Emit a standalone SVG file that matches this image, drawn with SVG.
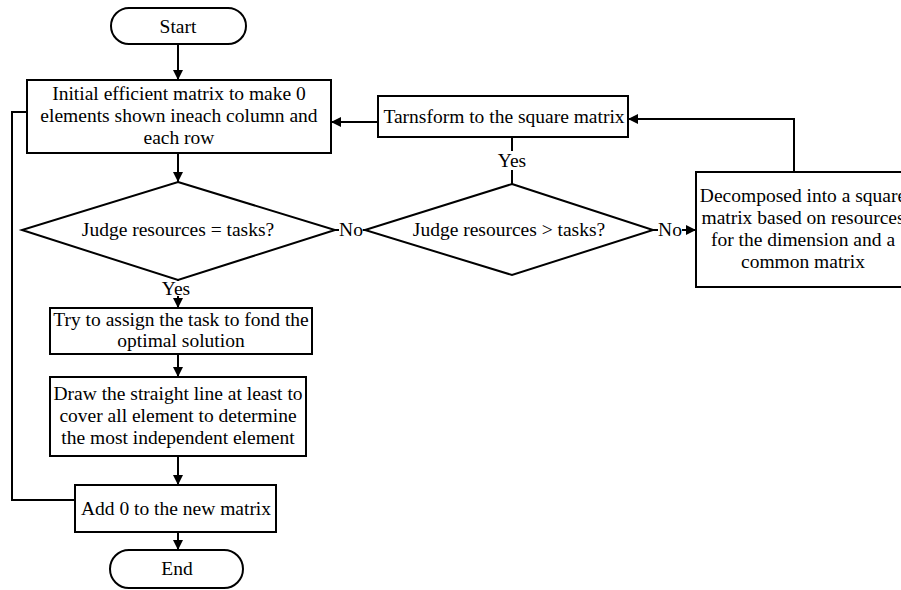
<svg xmlns="http://www.w3.org/2000/svg" width="901" height="590" viewBox="0 0 901 590">
<style>
.n{fill:#fff;stroke:#000;stroke-width:2}
.t{font-family:"Liberation Serif","Times New Roman",serif;font-size:19.5px;fill:#000;text-anchor:middle}
.c{fill:none;stroke:#000;stroke-width:2}
.a{marker-end:url(#ah)}
</style>
<defs>
<marker id="ah" viewBox="0 0 10 10" refX="10" refY="5" markerWidth="5" markerHeight="5" orient="auto" markerUnits="strokeWidth">
<path d="M0,0 L10,5 L0,10 z" fill="#000"/>
</marker>
</defs>
<rect width="901" height="590" fill="#fff"/>
<g id="connectors">
<path class="c a" d="M178,44 V80"/>
<path class="c a" d="M178,153 V182"/>
<path class="c a" d="M335,230 H365"/>
<path class="c" d="M512,184 V137"/>
<path class="c a" d="M378,122 H331"/>
<path class="c a" d="M794,172 V119 H628"/>
<path class="c a" d="M653,230 H696"/>
<path class="c a" d="M178,280 V308"/>
<path class="c a" d="M178,354 V377"/>
<path class="c a" d="M178,456 V485"/>
<path class="c a" d="M178,532 V550"/>
<path class="c" d="M75,500 H12 V112 H27"/>
</g>
<g id="labels">
<rect x="339" y="221" width="24" height="18" fill="#fff"/>
<text class="t" x="351" y="236">No</text>
<rect x="658" y="221" width="24" height="18" fill="#fff"/>
<text class="t" x="670" y="236">No</text>
<rect x="496" y="151" width="32" height="19" fill="#fff"/>
<text class="t" x="512" y="167">Yes</text>
<rect x="160" y="281" width="32" height="15" fill="#fff"/>
<text class="t" x="176" y="295">Yes</text>
</g>
<g id="start">
<rect class="n" x="111" y="8" width="135" height="36" rx="18"/>
<text class="t" x="178" y="33">Start</text>
</g>
<g id="init">
<rect class="n" x="27" y="80" width="304" height="73"/>
<text class="t" x="179" y="100">Initial efficient matrix to make 0</text>
<text class="t" x="179" y="122">elements shown ineach column and</text>
<text class="t" x="179" y="144">each row</text>
</g>
<g id="judge1">
<polygon class="n" points="178,182 335,230 178,280 22,230"/>
<text class="t" x="178" y="236">Judge resources = tasks?</text>
</g>
<g id="judge2">
<polygon class="n" points="512,184 653,230 512,275 365,230"/>
<text class="t" x="509" y="236">Judge resources &gt; tasks?</text>
</g>
<g id="transform">
<rect class="n" x="378" y="96" width="250" height="41"/>
<text class="t" x="504" y="123">Tarnsform to the square matrix</text>
</g>
<g id="decompose">
<rect class="n" x="696" y="172" width="212" height="115"/>
<text class="t" x="803" y="202">Decomposed into a square</text>
<text class="t" x="803" y="224">matrix based on resources</text>
<text class="t" x="803" y="246">for the dimension and a</text>
<text class="t" x="803" y="268">common matrix</text>
</g>
<g id="try">
<rect class="n" x="50" y="308" width="262" height="46"/>
<text class="t" x="181" y="326">Try to assign the task to fond the</text>
<text class="t" x="181" y="347">optimal solution</text>
</g>
<g id="draw">
<rect class="n" x="50" y="377" width="256" height="79"/>
<text class="t" x="178" y="400">Draw the straight line at least to</text>
<text class="t" x="178" y="422">cover all element to determine</text>
<text class="t" x="178" y="444">the most independent element</text>
</g>
<g id="add">
<rect class="n" x="75" y="485" width="201" height="47"/>
<text class="t" x="176" y="515">Add 0 to the new matrix</text>
</g>
<g id="end">
<rect class="n" x="110" y="550" width="133" height="38" rx="19"/>
<text class="t" x="177" y="575">End</text>
</g>
</svg>
